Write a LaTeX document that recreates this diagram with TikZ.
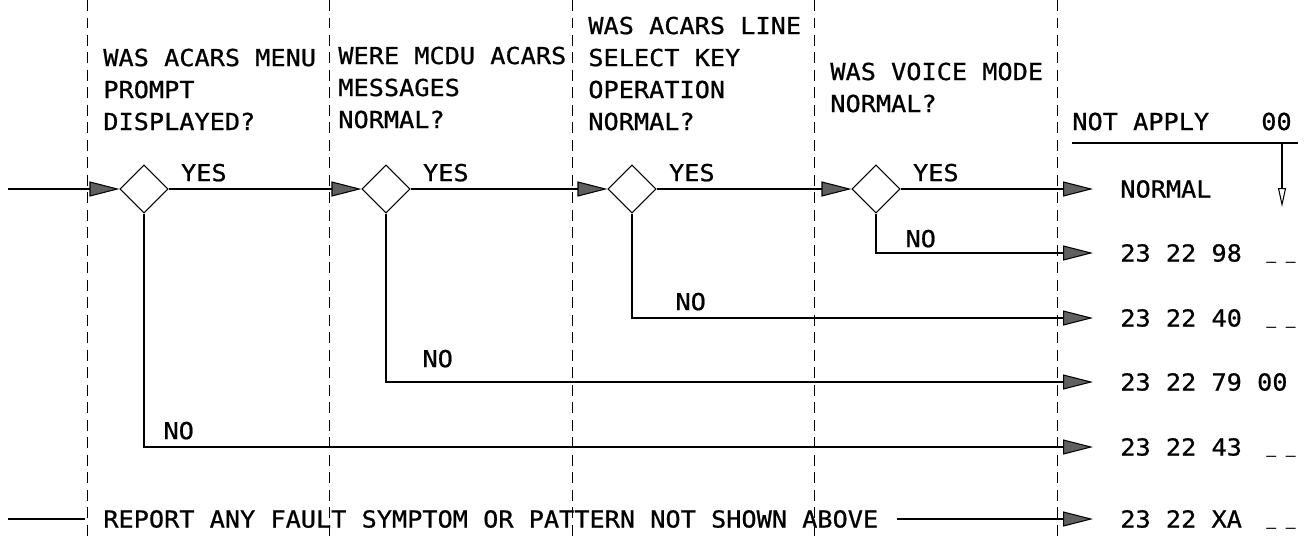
\documentclass[tikz,border=0pt]{standalone}
\usepackage{fontspec}
\usepackage{xcolor}
\usepackage{tikz}
\usetikzlibrary{arrows.meta,shapes.geometric}
\newfontfamily\plotfont[FakeStretch=1.08,FakeBold=0.8]{DejaVu Sans Mono}
\definecolor{plotInk}{HTML}{000000}
\definecolor{tipHatch}{HTML}{606060}
\tikzset{
  decisionbox/.style={diamond, draw=plotInk, line width=0.6pt, minimum width=0.96cm, minimum height=0.96cm, inner sep=0pt},
  flowarrow/.style={-{Triangle[length=0.6cm,width=0.3cm,fill=tipHatch]}, line width=0.6pt, draw=plotInk},
  downarrow/.style={-{Triangle[open,length=0.38cm,width=0.16cm]}, line width=0.6pt, draw=plotInk},
  plainline/.style={line width=0.6pt, draw=plotInk},
  divider/.style={draw=plotInk, line width=0.45pt, dash pattern=on 0.22cm off 0.13cm},
  plottext/.style={font=\plotfont\fontsize{13.3}{18.2}\selectfont, text=plotInk},
  question/.style={plottext, align=left, anchor=base west, inner sep=0pt},
  outcome/.style={plottext, anchor=west, inner xsep=0.54cm, inner ysep=0pt},
  blankmark/.style={font=\plotfont\fontsize{8.5}{9}\selectfont, anchor=base west, inner sep=0pt},
  yeslabel/.style={plottext, pos=0, anchor=south west, inner xsep=0.24cm, inner ysep=0.14cm},
  nolabel/.style={plottext, pos=0.5, anchor=south west, inner sep=0pt},
  reportlabel/.style={plottext, anchor=west, inner xsep=0.36cm, inner ysep=0pt},
}
\begin{document}
\begin{tikzpicture}[x=0.02cm,y=-0.02cm]
  \useasboundingbox (0,0) rectangle (1307,538);

  % column dividers
  \foreach \dx in {87,329,572,814,1057}
    \draw[divider] (\dx,0) -- (\dx,538);

  % questions (anchored on the last line)
  \node[question] (hmenu) at (103,130) {WAS ACARS MENU\\PROMPT\\DISPLAYED?};
  \node[question] (hmsg) at (338,128) {WERE MCDU ACARS\\MESSAGES\\NORMAL?};
  \node[question] (hkey) at (588,130) {WAS ACARS LINE\\SELECT KEY\\OPERATION\\NORMAL?};
  \node[question] (hvoice) at (830,112) {WAS VOICE MODE\\NORMAL?};

  % decisions
  \node[decisionbox] (qmenu) at (144,189) {};
  \node[decisionbox] (qmsg) at (386,189) {};
  \node[decisionbox] (qkey) at (632,189) {};
  \node[decisionbox] (qvoice) at (876,189) {};

  % outcomes
  \node[plottext, anchor=base west, inner sep=0pt] (napply) at (1072,130) {NOT APPLY};
  \node[plottext, anchor=base east, inner sep=0pt] (napcode) at (1292,130) {00};
  \coordinate (nastart) at (1072,143);
  \coordinate (naend) at (1298,143);
  \coordinate (natop) at (1282,143);
  \coordinate (natip) at (1282,207);

  \node[outcome] (onormal) at (1093,189) {NORMAL};
  \node[outcome] (o98) at (1093,253) {23 22 98};
  \node[outcome] (o40) at (1093,318) {23 22 40};
  \node[outcome] (o79) at (1093,382) {23 22 79 00};
  \node[outcome] (o43) at (1093,447) {23 22 43};
  \node[outcome] (oxa) at (1093,519) {23 22 XA};

  \node[blankmark] (b98) at (1266,259) {\_ \_};
  \node[blankmark] (b40) at (1266,324) {\_ \_};
  \node[blankmark] (b43) at (1266,453) {\_ \_};
  \node[blankmark] (bxa) at (1266,525) {\_ \_};

  % report row
  \coordinate (entry) at (8,189);
  \coordinate (faultin) at (8,519);
  \node[reportlabel] (report) at (85,519) {REPORT ANY FAULT SYMPTOM OR PATTERN NOT SHOWN ABOVE};

  % flow
  \draw[flowarrow] (entry) -- (qmenu.west);
  \draw[flowarrow] (qmenu.east) -- node[yeslabel]{YES} (qmsg.west);
  \draw[flowarrow] (qmsg.east) -- node[yeslabel]{YES} (qkey.west);
  \draw[flowarrow] (qkey.east) -- node[yeslabel]{YES} (qvoice.west);
  \draw[flowarrow] (qvoice.east) -- node[yeslabel]{YES} (onormal.west);

  \draw[flowarrow] (qvoice.south) |- node[nolabel, xshift=0.58cm, yshift=0.1cm]{NO} (o98.west);
  \draw[flowarrow] (qkey.south) |- node[nolabel, xshift=0.86cm, yshift=0.14cm]{NO} (o40.west);
  \draw[flowarrow] (qmsg.south) |- node[nolabel, xshift=0.72cm, yshift=0.28cm]{NO} (o79.west);
  \draw[flowarrow] (qmenu.south) |- node[nolabel, xshift=0.38cm, yshift=0.14cm]{NO} (o43.west);

  \draw[plainline] (faultin) -- (report.west);
  \draw[flowarrow] (report.east) -- (oxa.west);

  \draw[plainline] (nastart) -- (naend);
  \draw[downarrow] (natop) -- (natip);
\end{tikzpicture}
\end{document}
